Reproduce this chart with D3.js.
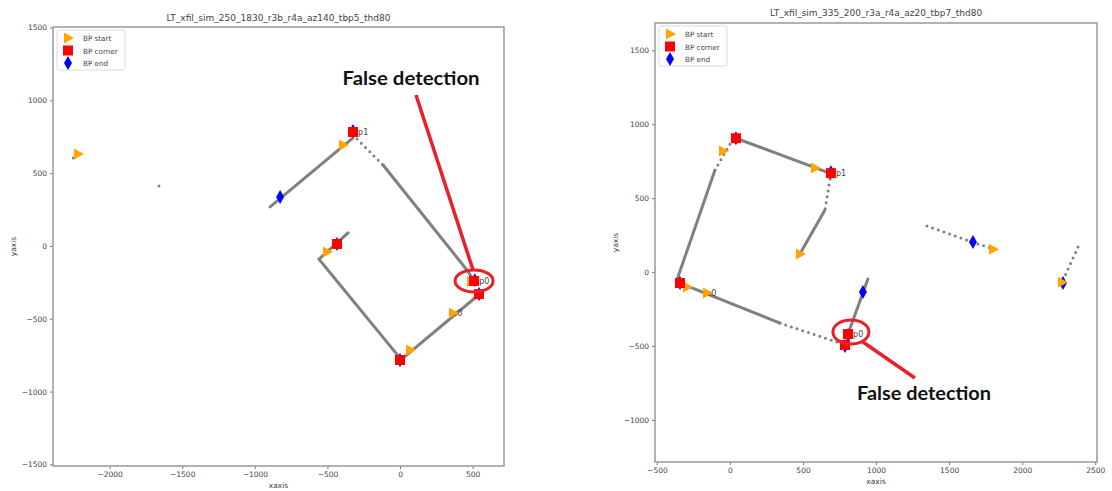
<!DOCTYPE html>
<html>
<head>
<meta charset="utf-8">
<script src="https://cdn.jsdelivr.net/npm/d3@7"></script>
<style>
  html, body { margin: 0; padding: 0; background: #fff; }
  svg { display: block; }
  .tick text, .lbl { font-family: "DejaVu Sans", sans-serif; fill: #444; }
</style>
</head>
<body>
<svg id="chart" width="1112" height="491"></svg>
<script>
// ---- left panel data ----
const leftTitle   = 'LT_xfil_sim_250_1830_r3b_r4a_az140_tbp5_thd80';
const leftXTicks  = [-2000, -1500, -1000, -500, 0, 500];
const leftYTicks  = [-1500, -1000, -500, 0, 500, 1000, 1500];
const leftSolid   = [
    [[-895, 268], [-324, 742]],
    [[-117, 556], [461, -165], [500, -225]],
    [[530, -345], [20, -770]],
    [[0, -770], [-558, -90], [-358, 90]]
];
const leftDotted  = [[[-296, 735], [-117, 556]]];
const leftStray   = [[-1660, 412], [-2250, 604]];
const leftStart   = [[-2218, 632], [-393, 694], [489, -245], [365, -460], [69, -714], [-503, -41]];
const leftCorner  = [[-324, 783], [510, -240], [544, -330], [0, -783], [-434, 14]];
const leftEnd     = [[-826, 337], [-324, 790], [515, -235], [544, -330], [0, -783], [-434, 14]];
const leftLabels  = ['bp1', 'bp0', 's0'];
const leftLabelAt = [[-324, 783], [510, -240], [365, -460]];
const leftNote    = { text: [76, 1106], from: [110, 1037], to: [503, -165], ring: [510, -240] };

// ---- right panel data ----
const rightTitle   = 'LT_xfil_sim_335_200_r3a_r4a_az20_tbp7_thd80';
const rightXTicks  = [-500, 0, 500, 1000, 1500, 2000, 2500];
const rightYTicks  = [-1000, -500, 0, 500, 1000, 1500];
const rightSolid   = [
    [[-103, 689], [-363, -54]],
    [[41, 905], [664, 676]],
    [[650, 419], [486, 135]],
    [[-342, -74], [342, -345]],
    [[808, -419], [944, -47]]
];
const rightDotted  = [
    [[20, 900], [-103, 689]],
    [[691, 669], [650, 419]],
    [[342, -345], [753, -480]],
    [[1348, 311], [1800, 155]],
    [[2382, 169], [2279, -54]]
];
const rightStray   = [];
const rightStart   = [[-48, 818], [582, 703], [479, 122], [-294, -101], [-157, -142], [1800, 155], [2272, -68]];
const rightCorner  = [[41, 905], [691, 669], [-342, -74], [787, -493], [808, -419]];
const rightEnd     = [[41, 905], [691, 675], [-342, -74], [787, -500], [808, -425], [910, -135], [1663, 203], [2279, -74]];
const rightLabels  = ['bp1', 'bp0', 's0'];
const rightLabelAt = [[691, 669], [808, -419], [-157, -142]];
const rightNote    = { text: [1328, -865], from: [910, -473], to: [1266, -716], ring: [828, -405] };

const svg = d3.select('#chart');

const legendItems = [
    { name: 'BP start',  shape: 'tri' },
    { name: 'BP corner', shape: 'sq' },
    { name: 'BP end',    shape: 'dia' }
];

function marker(g, shape) {
    if (shape === 'tri')
        g.append('path').attr('d', 'M-4,-5.5L6,0L-4,5.5Z').attr('fill', '#ffa500');
    else if (shape === 'sq')
        g.append('rect').attr('x', -5).attr('y', -5).attr('width', 10).attr('height', 10).attr('fill', '#ff0000');
    else
        g.append('path').attr('d', 'M0,-7L4,0L0,7L-4,0Z').attr('fill', '#0000ff');
}

function drawPanel(p) {
    const x = d3.scaleLinear().domain(p.xDom).range([p.x0, p.x1]);
    const y = d3.scaleLinear().domain(p.yDom).range([p.y1, p.y0]);
    const g = svg.append('g');
    const fmt = d => d < 0 ? '\u2212' + Math.abs(d) : String(d);

    const ax = g.append('g').attr('transform', `translate(0,${p.y1})`)
        .call(d3.axisBottom(x).tickValues(p.xTicks).tickFormat(fmt).tickSize(3).tickPadding(3));
    const ay = g.append('g').attr('transform', `translate(${p.x0},0)`)
        .call(d3.axisLeft(y).tickValues(p.yTicks).tickFormat(fmt).tickSize(3).tickPadding(3));
    [ax, ay].forEach(a => {
        a.select('.domain').remove();
        a.selectAll('.tick line').attr('stroke', '#777');
        a.selectAll('.tick text').attr('font-size', 7.5).attr('fill', '#444');
    });

    g.append('rect').attr('x', p.x0).attr('y', p.y0)
        .attr('width', p.x1 - p.x0).attr('height', p.y1 - p.y0)
        .attr('fill', 'none').attr('stroke', '#999').attr('stroke-width', 1.5);

    g.append('text').attr('class', 'lbl').attr('x', (p.x0 + p.x1) / 2).attr('y', p.titleY)
        .attr('text-anchor', 'middle').attr('font-size', 9).attr('fill', '#333').text(p.title);
    g.append('text').attr('class', 'lbl').attr('x', (p.x0 + p.x1) / 2).attr('y', p.y1 + 22)
        .attr('text-anchor', 'middle').attr('font-size', 7.5).text('xaxis');
    g.append('text').attr('class', 'lbl')
        .attr('transform', `translate(${p.x0 - 37},${(p.y0 + p.y1) / 2}) rotate(-90)`)
        .attr('text-anchor', 'middle').attr('font-size', 7.5).text('yaxis');

    const line = d3.line().x(d => x(d[0])).y(d => y(d[1]));
    g.selectAll('.solid').data(p.solid).join('path').attr('class', 'solid')
        .attr('d', line).attr('fill', 'none').attr('stroke', '#808080')
        .attr('stroke-width', 3).attr('stroke-linecap', 'round');
    g.selectAll('.dotted').data(p.dotted).join('path').attr('class', 'dotted')
        .attr('d', line).attr('fill', 'none').attr('stroke', '#808080')
        .attr('stroke-width', 3).attr('stroke-linecap', 'round').attr('stroke-dasharray', '0,6');
    g.selectAll('.stray').data(p.stray).join('circle').attr('class', 'stray')
        .attr('cx', d => x(d[0])).attr('cy', d => y(d[1])).attr('r', 1.5).attr('fill', '#808080');

    // point labels sit under the markers, like in the original plot
    g.selectAll('.ptl').data(p.labels).join('text').attr('class', 'lbl ptl')
        .attr('x', (_, i) => x(p.labelAt[i][0]))
        .attr('y', (_, i) => y(p.labelAt[i][1]) + 3)
        .attr('font-size', 8).attr('fill', '#222').text(d => d);

    const groups = [['dia', p.end], ['tri', p.start], ['sq', p.corner]];
    groups.forEach(([shape, pts]) => {
        pts.forEach(d => {
            marker(g.append('g').attr('transform', `translate(${x(d[0])},${y(d[1])})`), shape);
        });
    });

    // legend
    const lg = g.append('g').attr('transform', `translate(${p.x0 + 4},${p.y0 + 3})`);
    lg.append('rect').attr('width', 68).attr('height', 40).attr('rx', 2)
        .attr('fill', '#fff').attr('stroke', '#ddd');
    legendItems.forEach((it, i) => {
        const row = lg.append('g').attr('transform', `translate(0,${8 + i * 12.5})`);
        marker(row.append('g').attr('transform', 'translate(11,0)'), it.shape);
        row.append('text').attr('class', 'lbl').attr('x', 26).attr('y', 3)
            .attr('font-size', 7.2).attr('fill', '#333').text(it.name);
    });

    // annotation
    const n = p.note;
    g.append('line').attr('x1', x(n.from[0])).attr('y1', y(n.from[1]))
        .attr('x2', x(n.to[0])).attr('y2', y(n.to[1]))
        .attr('stroke', '#e8202a').attr('stroke-width', 3.5);
    g.append('ellipse').attr('cx', x(n.ring[0])).attr('cy', y(n.ring[1]))
        .attr('rx', p.ringRx).attr('ry', p.ringRy)
        .attr('fill', 'none').attr('stroke', '#e8202a').attr('stroke-width', 3);
    g.append('text').attr('x', x(n.text[0])).attr('y', y(n.text[1]))
        .attr('text-anchor', 'middle').attr('font-family', 'Lato, "Open Sans", sans-serif')
        .attr('font-weight', 'bold').attr('font-size', 19).attr('fill', '#111')
        .attr('textLength', p.noteW).attr('lengthAdjust', 'spacingAndGlyphs')
        .text('False detection');
}

drawPanel({
    title: leftTitle, titleY: 21,
    x0: 53, x1: 504, y0: 27, y1: 466,
    xDom: [-2390, 716], yDom: [-1511, 1504],
    xTicks: leftXTicks, yTicks: leftYTicks,
    solid: leftSolid, dotted: leftDotted, stray: leftStray,
    start: leftStart, corner: leftCorner, end: leftEnd,
    labels: leftLabels, labelAt: leftLabelAt,
    note: leftNote, ringRx: 19, ringRy: 11, noteW: 137
});

drawPanel({
    title: rightTitle, titleY: 16,
    x0: 655, x1: 1097, y0: 23, y1: 462,
    xDom: [-513, 2512], yDom: [-1284, 1684],
    xTicks: rightXTicks, yTicks: rightYTicks,
    solid: rightSolid, dotted: rightDotted, stray: rightStray,
    start: rightStart, corner: rightCorner, end: rightEnd,
    labels: rightLabels, labelAt: rightLabelAt,
    note: rightNote, ringRx: 18, ringRy: 12, noteW: 134
});
</script>
</body>
</html>
